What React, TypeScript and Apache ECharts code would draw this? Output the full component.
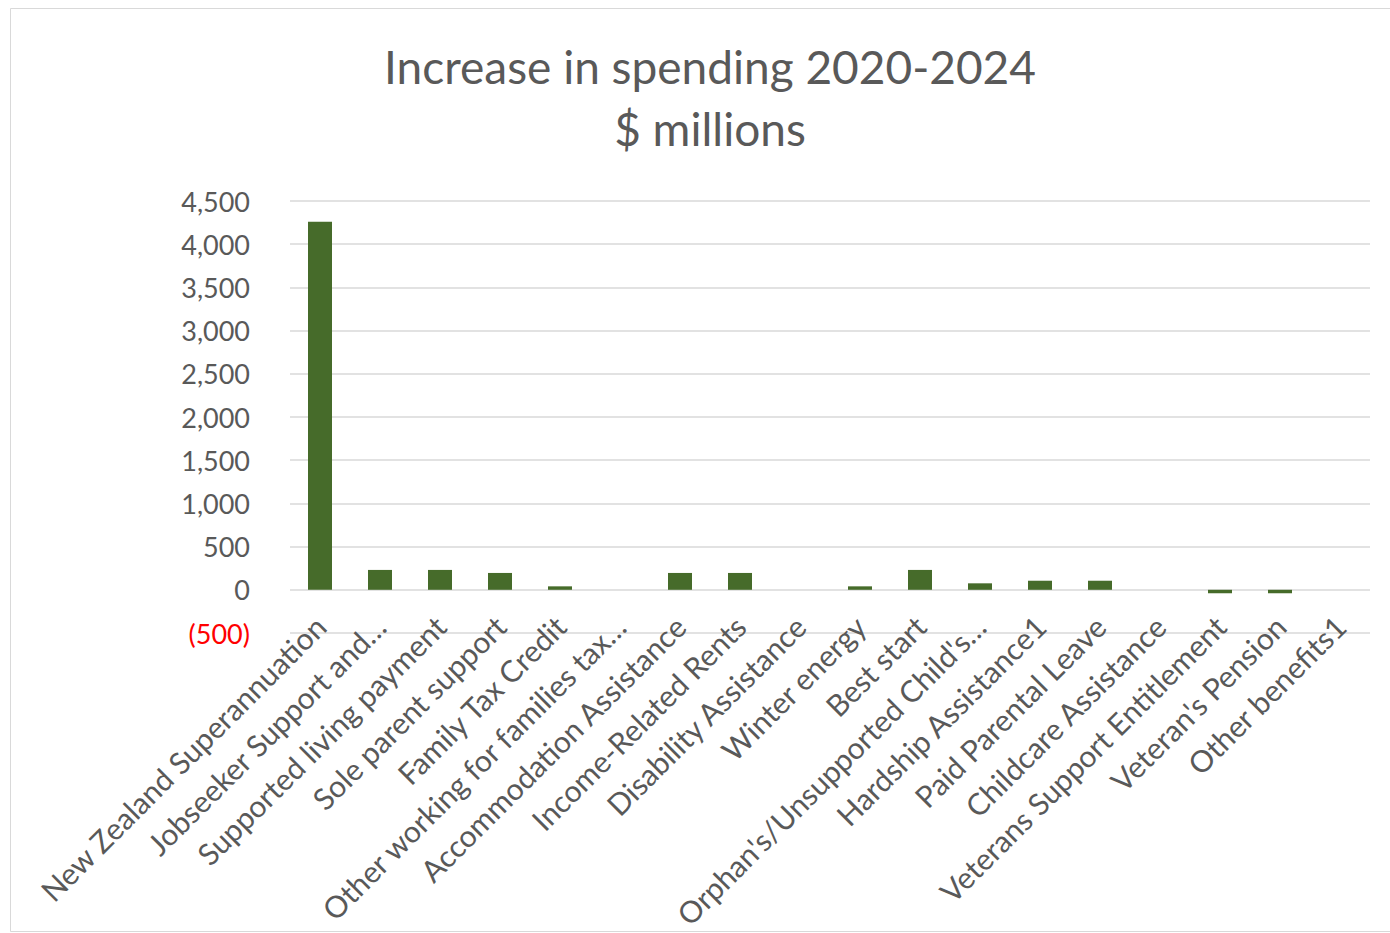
import React, { useEffect, useRef } from "react";
import * as echarts from "echarts";

// Benefit categories, left to right
const categories: string[] = [
  "New Zealand Superannuation",
  "Jobseeker Support and…",
  "Supported living payment",
  "Sole parent support",
  "Family Tax Credit",
  "Other working for families tax…",
  "Accommodation Assistance",
  "Income-Related Rents",
  "Disability Assistance",
  "Winter energy",
  "Best start",
  "Orphan's/Unsupported Child's…",
  "Hardship Assistance1",
  "Paid Parental Leave",
  "Childcare Assistance",
  "Veterans Support Entitlement",
  "Veteran's Pension",
  "Other benefits1",
];

// Increase in spending 2020-2024, $ millions
const increase: number[] = [
  4260, 230, 230, 195, 40, 0, 195, 195, 0, 40, 230, 75, 105, 105, 0, -40, -40, 0,
];

// Chart heading, two lines
const titleLines: string[] = ["Increase in spending 2020-2024", "$ millions"];

// Value axis range
const yMin = -500;
const yMax = 4500;
const yStep = 500;

const TEXT = "#595959";
const FONT = "Lato, 'Open Sans', sans-serif";

function formatTick(v: number): string {
  if (v < 0) return `{neg|(${Math.abs(v).toLocaleString("en-US")})}`;
  return v.toLocaleString("en-US");
}

export default function App() {
  const ref = useRef<HTMLDivElement>(null);

  useEffect(() => {
    if (!ref.current) return;
    const chart = echarts.init(ref.current, undefined, { renderer: "svg" });
    chart.setOption({
      animation: false,
      backgroundColor: "#ffffff",
      graphic: [
        {
          type: "rect",
          shape: { x: 10.5, y: 8.5, width: 1400, height: 923 },
          style: { fill: "none", stroke: "#d9d9d9", lineWidth: 1 },
          silent: true,
        },
        ...titleLines.map((line, i) => ({
          type: "text",
          x: 710,
          y: 66 + i * 62,
          silent: true,
          style: {
            text: line,
            fontFamily: FONT,
            fontSize: 46,
            fill: TEXT,
            align: "center",
            verticalAlign: "middle",
          },
        })),
      ],
      grid: {
        left: 290,
        right: 20,
        top: 201,
        bottom: 300,
        outerBoundsMode: "none",
        containLabel: false,
      },
      xAxis: {
        type: "category",
        data: categories,
        position: "bottom",
        axisLine: { show: false, onZero: false },
        axisTick: { show: false },
        axisLabel: {
          interval: 0,
          rotate: 45,
          margin: -12,
          fontFamily: FONT,
          fontSize: 30,
          color: TEXT,
        },
      },
      yAxis: {
        type: "value",
        min: yMin,
        max: yMax,
        interval: yStep,
        axisLine: { show: false },
        axisTick: { show: false },
        splitLine: { show: true, lineStyle: { color: "#d9d9d9", width: 1.5 } },
        axisLabel: {
          margin: 40,
          fontFamily: FONT,
          fontSize: 27,
          color: TEXT,
          formatter: formatTick,
          rich: {
            neg: { color: "#ff0000", fontFamily: FONT, fontSize: 27 },
          },
        },
      },
      series: [
        {
          type: "bar",
          data: increase,
          barWidth: "40%",
          itemStyle: { color: "#466b2a" },
        },
      ],
    });
    return () => chart.dispose();
  }, []);

  return (
    <div
      ref={ref}
      style={{ position: "fixed", left: 0, top: 0, width: 1390, height: 933 }}
    />
  );
}
